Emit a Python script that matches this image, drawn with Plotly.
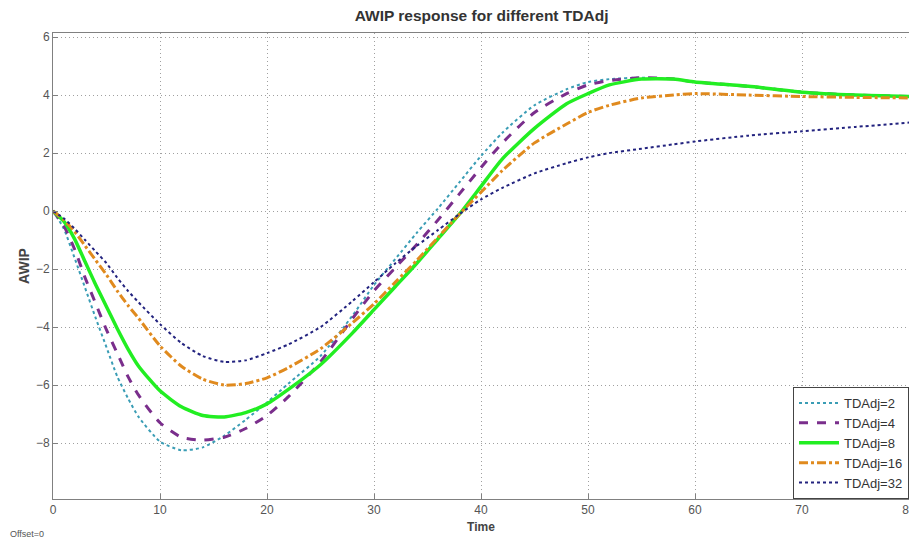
import plotly.graph_objs as go

# sample times (s) and the five responses
time = [0, 1, 2, 3, 4, 5, 6, 7, 8, 10, 12, 14, 16, 18, 20, 22, 25, 28, 30, 32, 34, 36, 38,
        40, 42, 45, 48, 50, 52, 55, 58, 60, 65, 70, 75, 80]

awip_2 = [0, -0.6, -1.6, -2.65, -3.7, -4.7, -5.7, -6.45, -7.1, -7.95, -8.25, -8.15, -7.75,
          -7.2, -6.6, -5.95, -5.0, -3.6, -2.55, -1.65, -0.75, 0.1, 1.0, 1.9, 2.7, 3.65, 4.2,
          4.45, 4.55, 4.6, 4.55, 4.45, 4.3, 4.1, 4.0, 3.95]
awip_4 = [0, -0.5, -1.3, -2.3, -3.2, -4.1, -4.9, -5.7, -6.35, -7.3, -7.8, -7.9, -7.8,
          -7.5, -7.05, -6.4, -5.2, -3.7, -2.75, -1.95, -1.15, -0.3, 0.6, 1.5, 2.35, 3.4,
          4.05, 4.35, 4.5, 4.6, 4.55, 4.45, 4.3, 4.1, 4.0, 3.95]
awip_8 = [0, -0.35, -0.95, -1.75, -2.55, -3.3, -4.05, -4.75, -5.35, -6.2, -6.75, -7.05,
          -7.1, -6.95, -6.65, -6.15, -5.3, -4.2, -3.4, -2.6, -1.8, -0.95, -0.1, 0.85, 1.8,
          2.85, 3.7, 4.05, 4.35, 4.55, 4.55, 4.45, 4.3, 4.1, 4.0, 3.95]
awip_16 = [0, -0.3, -0.7, -1.2, -1.7, -2.2, -2.75, -3.25, -3.7, -4.65, -5.35, -5.8, -6.0,
           -5.95, -5.75, -5.4, -4.75, -3.85, -3.2, -2.45, -1.7, -0.9, -0.1, 0.65, 1.4,
           2.35, 3.0, 3.4, 3.65, 3.9, 4.0, 4.05, 4.0, 3.95, 3.92, 3.9]
awip_32 = [0, -0.25, -0.6, -1.0, -1.4, -1.8, -2.3, -2.75, -3.15, -3.9, -4.55, -5.0, -5.2,
           -5.15, -4.9, -4.6, -4.0, -3.1, -2.45, -1.8, -1.2, -0.65, -0.1, 0.4, 0.8, 1.3,
           1.65, 1.85, 2.0, 2.15, 2.3, 2.4, 2.6, 2.75, 2.9, 3.05]

x_ticks = [0, 10, 20, 30, 40, 50, 60, 70, 80]
y_ticks = [-8, -6, -4, -2, 0, 2, 4, 6]

series = [
    ("TDAdj=2", awip_2, dict(color="#3a9db5", width=2, dash="dot")),
    ("TDAdj=4", awip_4, dict(color="#7a2e8c", width=3, dash="dash")),
    ("TDAdj=8", awip_8, dict(color="#22ee22", width=3.5)),
    ("TDAdj=16", awip_16, dict(color="#e08a1e", width=3, dash="dashdot")),
    ("TDAdj=32", awip_32, dict(color="#23237f", width=2, dash="dot")),
]

fig = go.Figure()
for name, values, line in series:
    fig.add_trace(go.Scatter(x=time, y=values, name=name, mode="lines",
                             line=dict(shape="spline", smoothing=0.6, **line)))

axis_style = dict(showgrid=True, gridcolor="#a0a0a0", griddash="1px,3px", gridwidth=1,
                  showline=True, linewidth=1, linecolor="#808080", mirror=True,
                  ticks="inside", ticklen=5, tickcolor="#808080", automargin=False,
                  tickfont=dict(family="Liberation Sans, Arial", size=12, color="#555555"),
                  zeroline=False)

fig.update_xaxes(range=[0, 80], tickvals=x_ticks,
                 title=dict(text="<b>Time</b>", standoff=6,
                            font=dict(family="Liberation Sans, Arial", size=12, color="#444444")),
                 **axis_style)
fig.update_yaxes(range=[-9.93, 6.14], tickvals=y_ticks,
                 title=dict(text="<b>AWIP</b>", standoff=3,
                            font=dict(family="Liberation Sans, Arial", size=14, color="#444444")),
                 **axis_style)

# the page body adds an 8px offset, so the figure is 8px smaller than the window
fig.update_layout(
    width=909, height=534,
    margin=dict(l=45, r=8, t=25, b=43),
    plot_bgcolor="white", paper_bgcolor="white",
    title=dict(text="<b>AWIP response for different TDAdj</b>", x=0.521, xanchor="center",
               y=0.985, yanchor="middle",
               font=dict(family="Liberation Sans, Arial", size=15.5, color="#333333")),
    legend=dict(x=1, y=0, xanchor="right", yanchor="bottom",
                bgcolor="white", bordercolor="#444444", borderwidth=1,
                font=dict(family="Liberation Sans, Arial", size=13, color="#333333"),
                tracegroupgap=0, itemwidth=40),
    annotations=[dict(text="Offset=0", x=0, y=-0.075, xref="paper", yref="paper",
                      xanchor="left", yanchor="middle", showarrow=False, xshift=-45,
                      font=dict(family="Liberation Sans, Arial", size=9, color="#555555"))],
)

fig.write_html("out.html")
